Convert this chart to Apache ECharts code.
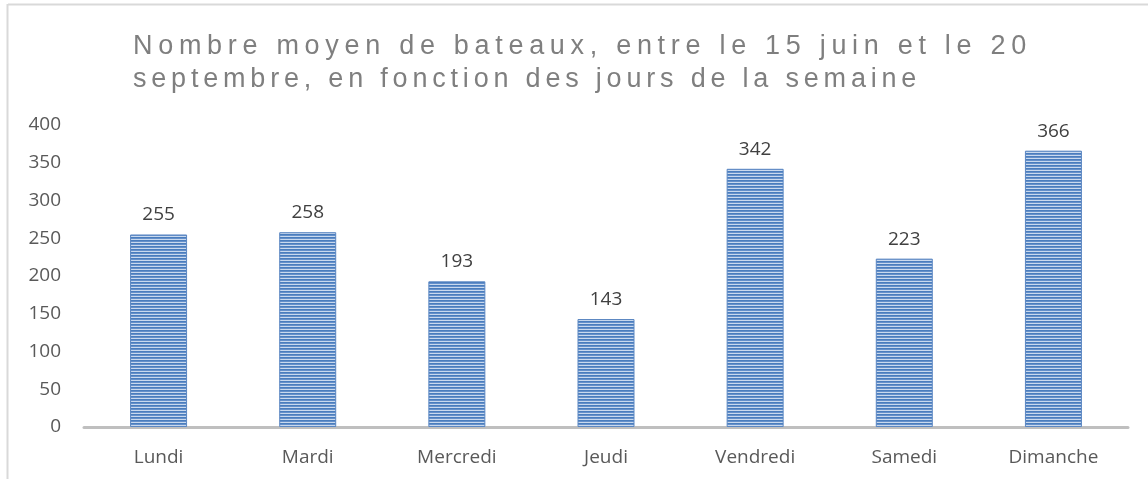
<!DOCTYPE html>
<html>
<head>
<meta charset="utf-8">
<script src="https://cdn.jsdelivr.net/npm/echarts@6/dist/echarts.min.js"></script>
<style>
  html, body { margin: 0; padding: 0; background: #fff; }
  #wrap { position: relative; width: 1148px; height: 479px; }
  #chart { position: absolute; left: 0; top: 0; width: 1148px; height: 479px; }
  #title {
    position: absolute; left: 133px; top: 29px;
    font-family: "Liberation Sans", Arial, sans-serif;
    font-size: 27px; line-height: 33px;
    color: #7f7f7f; white-space: nowrap;
  }
  #title .l1 { letter-spacing: 5.7px; }
  #title .l2 { letter-spacing: 4.8px; }
</style>
</head>
<body>
<div id="wrap">
  <div id="chart"></div>
  <div id="title"><span class="l1">Nombre moyen de bateaux, entre le 15 juin et le 20</span><br><span class="l2">septembre, en fonction des jours de la semaine</span></div>
</div>
<script>
const days = ['Lundi', 'Mardi', 'Mercredi', 'Jeudi', 'Vendredi', 'Samedi', 'Dimanche'];
const boats = [255, 258, 193, 143, 342, 223, 366];
const yTicks = [0, 50, 100, 150, 200, 250, 300, 350, 400];

// motif rayé horizontal des barres
const stripe = document.createElement('canvas');
stripe.width = 4;
stripe.height = 3;
const ctx = stripe.getContext('2d');
ctx.fillStyle = '#4a7dbd'; ctx.fillRect(0, 0, 4, 1);
ctx.fillStyle = '#6590ca'; ctx.fillRect(0, 1, 4, 1);
ctx.fillStyle = '#c9d9ee'; ctx.fillRect(0, 2, 4, 1);

const chartInstance = echarts.init(document.getElementById('chart'));

const option = {
  animation: false,
  grid: { left: 84, right: 20, top: 125, bottom: 52 },
  graphic: [
    { type: 'line', shape: { x1: 8, y1: 4.5, x2: 1148, y2: 4.5 }, style: { stroke: '#d9d9d9', lineWidth: 2 } },
    { type: 'line', shape: { x1: 7.5, y1: 4, x2: 7.5, y2: 479 }, style: { stroke: '#d9d9d9', lineWidth: 2 } }
  ],
  xAxis: {
    type: 'category',
    data: days,
    axisTick: { show: false },
    axisLine: { lineStyle: { color: '#bfbfbf', width: 3 } },
    axisLabel: {
      margin: 21,
      fontFamily: '"Open Sans", sans-serif',
      fontSize: 19,
      color: '#595959'
    }
  },
  yAxis: {
    type: 'value',
    min: yTicks[0],
    max: yTicks[yTicks.length - 1],
    interval: yTicks[1] - yTicks[0],
    splitLine: { show: false },
    axisLine: { show: false },
    axisTick: { show: false },
    axisLabel: {
      margin: 23,
      fontFamily: '"Open Sans", sans-serif',
      fontSize: 19,
      color: '#595959'
    }
  },
  series: [
    {
      type: 'bar',
      data: boats,
      barWidth: 57,
      itemStyle: {
        color: { image: stripe, repeat: 'repeat' },
        borderColor: '#5b87c2',
        borderWidth: 1
      },
      label: {
        show: true,
        position: 'top',
        distance: 10,
        fontFamily: '"Open Sans", sans-serif',
        fontSize: 19,
        color: '#404040'
      }
    }
  ]
};

chartInstance.setOption(option);
</script>
</body>
</html>
